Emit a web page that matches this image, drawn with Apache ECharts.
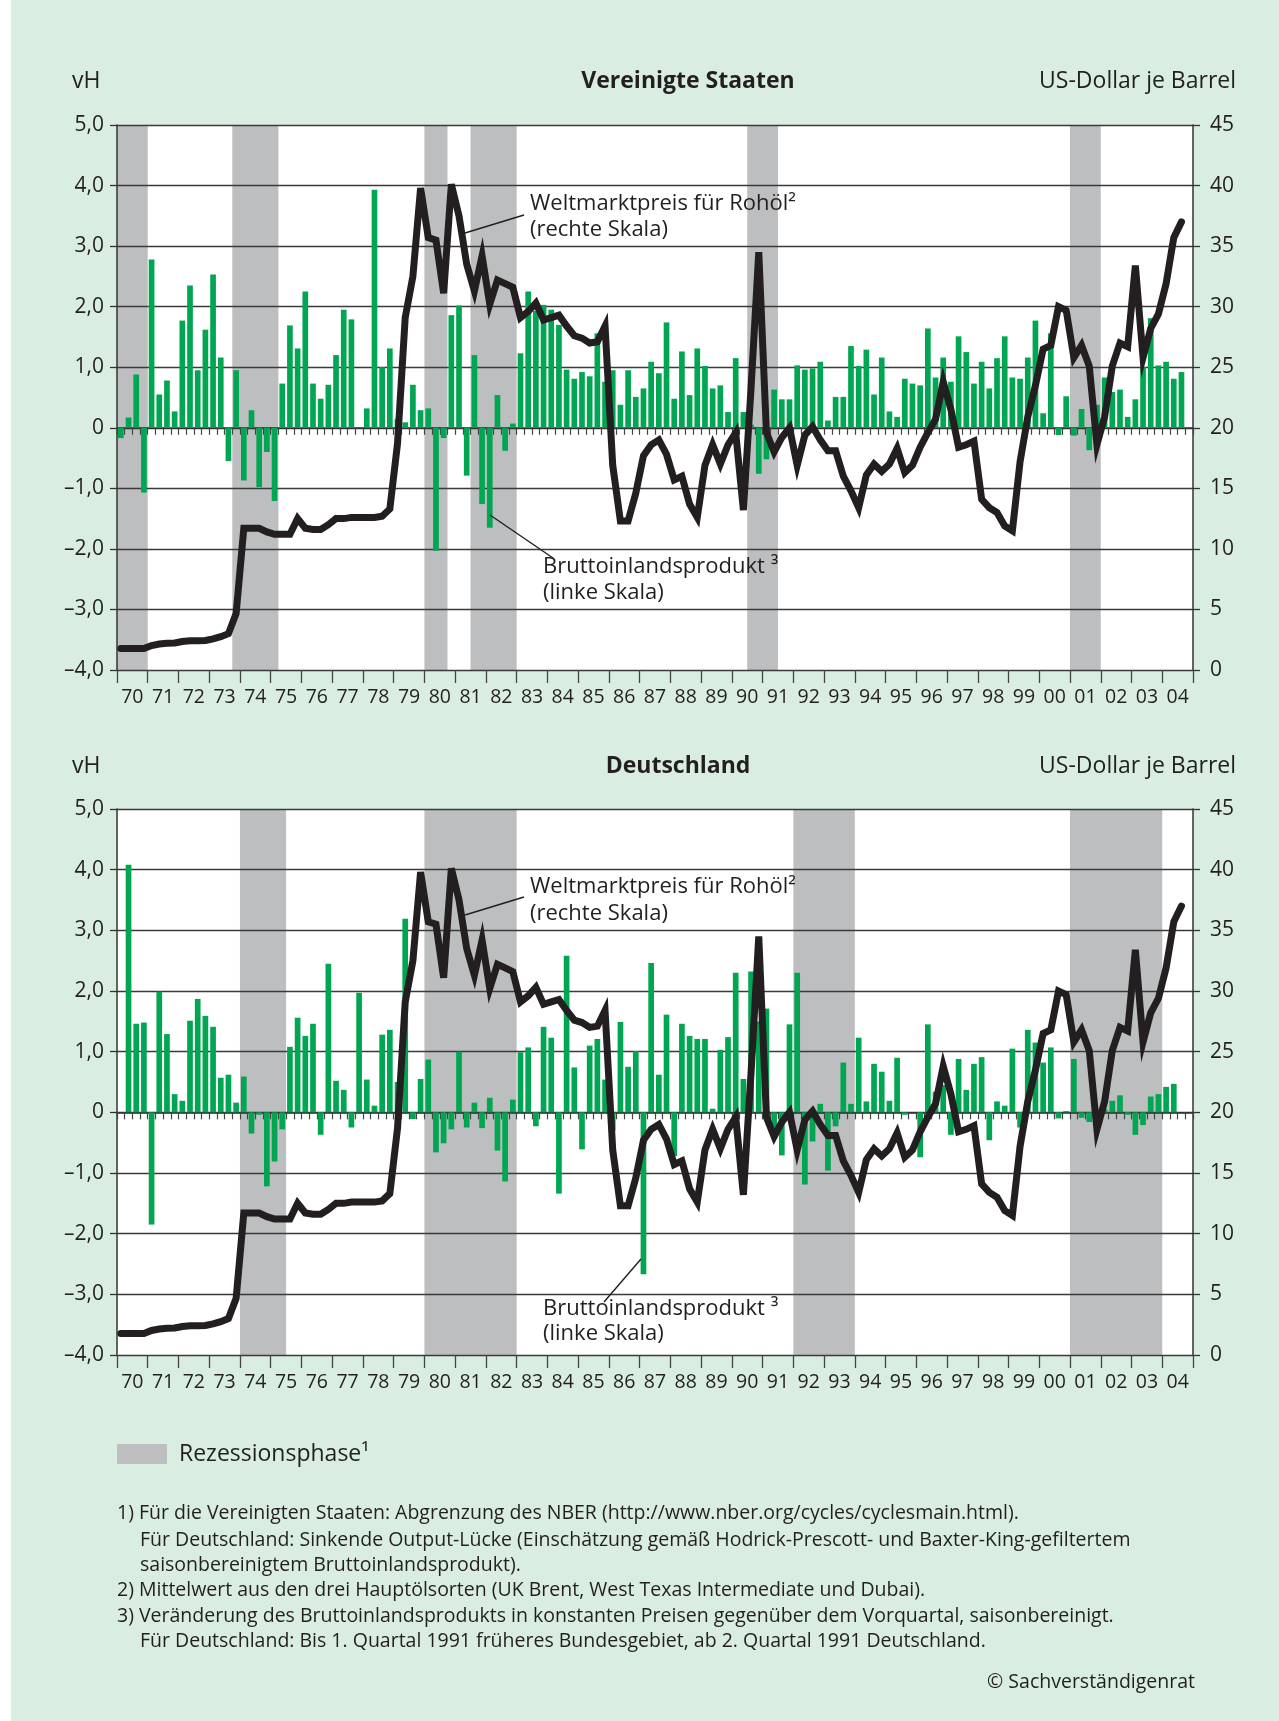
<!DOCTYPE html>
<html><head><meta charset="utf-8">
<script src="https://cdn.jsdelivr.net/npm/echarts@6/dist/echarts.min.js"></script>
<style>html,body{margin:0;padding:0;background:#ffffff}#c{width:1279px;height:1721px}</style>
</head><body><div id="c"></div><script>
// ---------- DATA ----------
const yearLabels = ['70','71','72','73','74','75','76','77','78','79','80','81','82','83','84','85','86','87','88','89','90','91','92','93','94','95','96','97','98','99','00','01','02','03','04'];
const firstYear = 1970;

// Quarterly GDP change vs previous quarter, vH (1970Q1 ... 2004Q3)
const gdpUS = [
-0.17,0.17,0.88,-1.07, 2.78,0.55,0.78,0.27, 1.77,2.35,0.95,1.62, 2.53,1.16,-0.55,0.95,
-0.87,0.29,-0.98,-0.40, -1.21,0.73,1.69,1.31, 2.25,0.73,0.48,0.71, 1.20,1.95,1.79,0.00,
0.32,3.93,1.00,1.31, 0.15,0.09,0.71,0.29, 0.32,-2.03,-0.17,1.86, 2.02,-0.79,1.20,-1.26,
-1.65,0.54,-0.38,0.07, 1.23,2.25,1.93,2.03, 1.95,1.70,0.96,0.81, 0.92,0.85,1.56,0.76,
0.95,0.38,0.95,0.51, 0.65,1.09,0.90,1.74, 0.48,1.26,0.54,1.31, 1.02,0.65,0.70,0.26,
1.15,0.26,0.05,-0.76, -0.52,0.63,0.47,0.47, 1.03,0.96,0.98,1.09, 0.12,0.51,0.51,1.35,
1.02,1.29,0.55,1.16, 0.27,0.18,0.81,0.73, 0.70,1.64,0.83,1.16, 0.76,1.51,1.25,0.73,
1.09,0.65,1.15,1.51, 0.83,0.81,1.16,1.77, 0.24,1.56,-0.12,0.52, -0.13,0.31,-0.37,0.38,
0.83,0.59,0.63,0.18, 0.47,1.00,1.81,1.03, 1.09,0.81,0.92,null];

const gdpDE = [
null,4.08,1.46,1.48, -1.85,1.99,1.29,0.30, 0.19,1.51,1.87,1.59, 1.41,0.57,0.62,0.16,
0.59,-0.35,-0.04,-1.22, -0.81,-0.28,1.08,1.56, 1.26,1.46,-0.37,2.45, 0.52,0.37,-0.25,1.97,
0.54,0.11,1.28,1.36, 0.50,3.19,-0.11,0.55, 0.87,-0.66,-0.51,-0.28, 1.00,-0.25,0.16,-0.26,
0.24,-0.63,-1.14,0.21, 0.99,1.07,-0.23,1.41, 1.23,-1.34,2.58,0.74, -0.61,1.10,1.21,0.54,
-0.30,1.49,0.75,1.01, -2.67,2.46,0.62,1.61, -0.72,1.46,1.26,1.21, 1.21,0.06,1.03,1.24,
2.30,0.55,2.32,1.50, 1.71,-0.26,-0.71,1.45, 2.30,-1.19,-0.48,0.14, -0.96,-0.23,0.82,0.14,
1.23,0.18,0.80,0.67, 0.19,0.90,-0.04,0.00, -0.74,1.45,0.34,0.45, -0.37,0.88,0.37,0.80,
0.91,-0.46,0.18,0.11, 1.05,-0.25,1.36,1.15, 0.82,1.07,-0.10,0.02, 0.88,-0.09,-0.16,-0.20,
0.05,0.19,0.28,-0.04, -0.37,-0.21,0.26,0.30, 0.42,0.47,null,null];

// World market crude oil price, US-Dollar per barrel
const oil = [
1.77,1.77,1.77,1.77, 2.02,2.14,2.20,2.23, 2.35,2.41,2.41,2.44, 2.57,2.75,3.00,4.67,
11.7,11.7,11.7,11.4, 11.2,11.2,11.2,12.5, 11.7,11.6,11.6,12.0, 12.5,12.5,12.6,12.6,
12.6,12.6,12.7,13.3, 18.7,29.1,32.5,39.8, 35.7,35.5,31.1,40.1, 37.5,33.5,31.3,34.2,
30.2,32.2,31.9,31.6, 29.1,29.6,30.3,28.9, 29.1,29.3,28.4,27.6, 27.4,27.0,27.1,28.4,
16.9,12.3,12.3,14.6, 17.7,18.6,19.0,17.8, 15.7,16.0,13.7,12.6, 16.9,18.6,17.0,18.6,
19.6,13.2,23.3,34.5, 19.6,18.0,19.2,20.0, 16.9,19.4,20.1,19.0, 18.1,18.1,16.0,14.8,
13.4,16.1,17.0,16.4, 17.0,18.3,16.3,16.9, 18.4,19.6,20.7,23.8, 21.5,18.4,18.6,18.9,
14.1,13.4,13.0,11.9, 11.5,17.2,20.9,23.5, 26.5,26.8,30.0,29.7, 25.8,26.8,25.1,18.6,
20.9,25.1,27.0,26.7, 33.4,25.8,28.2,29.4, 31.9,35.7,37.0,null];

const recessionsUS = [['1970Q1','1970Q4'],['1973Q4','1975Q1'],['1980Q1','1980Q3'],['1981Q3','1982Q4'],['1990Q3','1991Q2'],['2001Q1','2001Q4']];
const recessionsDE = [['1974Q1','1975Q2'],['1980Q1','1982Q4'],['1992Q1','1993Q4'],['2001Q1','2003Q4']];

const leftTicks = {min:-4, max:5, interval:1};
const rightTicks = {min:0, max:45, interval:5};

// ---------- BUILD ----------
const quarters = [];
yearLabels.forEach((y,i)=>{ for(let q=1;q<=4;q++) quarters.push((firstYear+i)+'Q'+q); });
function recessionRanges(list){
  return list.map(r=>[quarters.indexOf(r[0]), quarters.indexOf(r[1])]);
}
function renderRecession(params, api){
  const a = api.coord([api.value(0), 0]);
  const b = api.coord([api.value(1), 0]);
  const bw = api.size([1, 0])[0];
  const cs = params.coordSys;
  return {type:'rect', shape:{x:a[0]-bw/2, y:cs.y, width:(b[0]-a[0])+bw, height:cs.height},
          style:{fill:'#bcbec0'}};
}
const FONT = 'Open Sans, Noto Sans, sans-serif';
const TXT = '#231f20';
const grids = [{top:125, height:545}, {top:809, height:546}];
const xAxes=[], yAxes=[], series=[];
const panels = [{gdp:gdpUS, rec:recessionsUS}, {gdp:gdpDE, rec:recessionsDE}];
panels.forEach((p,g)=>{
  xAxes.push({type:'category', gridIndex:g, data:quarters, position:'bottom', z:2,
    axisLine:{show:true, lineStyle:{color:'#333', width:1.5}},
    axisTick:{show:true, interval:0, length:7, lineStyle:{color:'#444', width:1.2}},
    axisLabel:{show:false}, splitLine:{show:false}});
  xAxes.push({type:'category', gridIndex:g, data:yearLabels, position:'bottom', z:2,
    axisLine:{show:false},
    axisTick:{show:true, interval:0, length:13, lineStyle:{color:'#444', width:1.3}},
    axisLabel:{show:true, interval:0, margin:17, fontSize:19.5, fontFamily:FONT, color:TXT},
    splitLine:{show:false}});
  xAxes.push({type:'category', gridIndex:g, data:quarters, show:false});
  yAxes.push({type:'value', gridIndex:g, position:'left', min:leftTicks.min, max:leftTicks.max, interval:leftTicks.interval, z:2,
    axisLine:{show:true, lineStyle:{color:'#333', width:1.5}},
    axisTick:{show:true, length:7, lineStyle:{color:'#333', width:1.3}},
    axisLabel:{margin:13, fontSize:21, fontFamily:FONT, color:TXT,
      formatter:v=> v===0 ? '0' : (v<0?'\u2013':'') + Math.abs(v).toFixed(1).replace('.',',')},
    splitLine:{show:true, lineStyle:{color:'#3a3a3a', width:1.3}}});
  yAxes.push({type:'value', gridIndex:g, position:'right', min:rightTicks.min, max:rightTicks.max, interval:rightTicks.interval, z:2,
    axisLine:{show:true, lineStyle:{color:'#333', width:1.5}},
    axisTick:{show:true, length:7, lineStyle:{color:'#333', width:1.3}},
    axisLabel:{margin:17, fontSize:21, fontFamily:FONT, color:TXT},
    splitLine:{show:false}});
  yAxes.push({type:'value', gridIndex:g, min:0, max:1, show:false});
  series.push({type:'custom', name:'Rezessionsphase', xAxisIndex:g*3+2, yAxisIndex:g*3+2,
    data:recessionRanges(p.rec), renderItem:renderRecession, z:1, silent:true, clip:false});
  series.push({type:'bar', name:'Bruttoinlandsprodukt', xAxisIndex:g*3, yAxisIndex:g*3, data:p.gdp,
    barCategoryGap:'26%', itemStyle:{color:'#00a651'}, z:3, silent:true});
  series.push({type:'line', name:'Rohöl', xAxisIndex:g*3, yAxisIndex:g*3+1, data:oil, symbol:'none',
    lineStyle:{color:'#231f20', width:7, join:'miter', miterLimit:6, cap:'round'}, z:4, silent:true});
});

function txt(x,y,text,opt){
  return Object.assign({type:'text', x:x, y:y, z:20, silent:true, style:Object.assign({text:text, fill:TXT,
    font:'22px '+FONT, textAlign:'left', textVerticalAlign:'middle'}, opt||{})});
}
function line(x1,y1,x2,y2){
  return {type:'line', z:20, silent:true, shape:{x1:x1,y1:y1,x2:x2,y2:y2}, style:{stroke:'#231f20', lineWidth:1.4}};
}
const FN = '19.5px '+FONT;
const graphics = [
  {type:'rect', shape:{x:11, y:0, width:1268, height:1721}, style:{fill:'#d9ede1'}, z:-10, silent:true},
  txt(72,81,'vH',{font:'23px '+FONT}), txt(688,81,'Vereinigte Staaten',{textAlign:'center', font:'bold 23px '+FONT}), txt(1236,81,'US-Dollar je Barrel',{textAlign:'right', font:'23px '+FONT}),
  txt(72,766,'vH',{font:'23px '+FONT}), txt(678,766,'Deutschland',{textAlign:'center', font:'bold 23px '+FONT}), txt(1236,766,'US-Dollar je Barrel',{textAlign:'right', font:'23px '+FONT}),
  txt(530,204,'Weltmarktpreis für Rohöl\u00B2'), txt(530,230,'(rechte Skala)'),
  txt(543,567,'Bruttoinlandsprodukt \u00B3'), txt(543,593,'(linke Skala)'),
  line(465,233,524,215), line(490,515,553,558),
  txt(530,887,'Weltmarktpreis für Rohöl\u00B2'), txt(530,914,'(rechte Skala)'),
  txt(543,1309,'Bruttoinlandsprodukt \u00B3'), txt(543,1334,'(linke Skala)'),
  line(465,915,524,897), line(641,1259,604,1302),
  {type:'rect', z:20, shape:{x:117, y:1444, width:50, height:20}, style:{fill:'#bcbec0'}, silent:true},
  txt(179,1454,'Rezessionsphase\u00B9',{font:'23px '+FONT}),
  txt(117,1513,'1) Für die Vereinigten Staaten: Abgrenzung des NBER (http://www.nber.org/cycles/cyclesmain.html).',{font:FN}),
  txt(140,1540,'Für Deutschland: Sinkende Output-Lücke (Einschätzung gemäß Hodrick-Prescott- und Baxter-King-gefiltertem',{font:FN}),
  txt(140,1565,'saisonbereinigtem Bruttoinlandsprodukt).',{font:FN}),
  txt(117,1590,'2) Mittelwert aus den drei Hauptölsorten (UK Brent, West Texas Intermediate und Dubai).',{font:FN}),
  txt(117,1616,'3) Veränderung des Bruttoinlandsprodukts in konstanten Preisen gegenüber dem Vorquartal, saisonbereinigt.',{font:FN}),
  txt(140,1641,'Für Deutschland: Bis 1. Quartal 1991 früheres Bundesgebiet, ab 2. Quartal 1991 Deutschland.',{font:FN}),
  txt(1195,1682,'\u00A9 Sachverständigenrat',{font:FN, textAlign:'right'})
];

const chart = echarts.init(document.getElementById('c'), null, {renderer:'canvas'});
chart.setOption({
  animation:false,
  backgroundColor:'#ffffff',
  grid: grids.map(g=>({left:117, width:1076, top:g.top, height:g.height, show:true, backgroundColor:'#ffffff', borderWidth:0, containLabel:false})),
  xAxis:xAxes, yAxis:yAxes, series:series, graphic:graphics,
  tooltip:{show:false}, legend:{show:false}
});
</script></body></html>
